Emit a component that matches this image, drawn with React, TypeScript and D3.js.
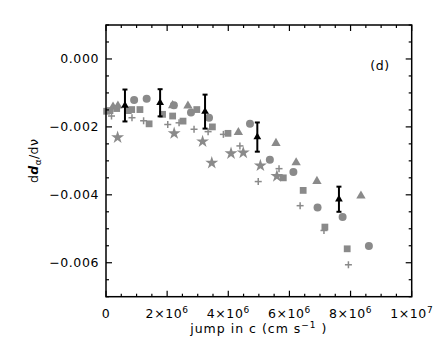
import React from 'react';
import * as d3 from 'd3';

// grey data series, x in cm/s, y in dd/dnu
const circleX = [0.92e6, 1.33e6, 2.22e6, 2.78e6, 3.37e6, 4.71e6, 5.36e6, 6.13e6, 6.92e6, 7.74e6, 8.60e6];
const circleY = [-0.00121, -0.00117, -0.00136, -0.00158, -0.00173, -0.00191, -0.00297, -0.00333, -0.00437, -0.00465, -0.00551];

const squareX = [0.02e6, 0.13e6, 0.35e6, 0.73e6, 0.84e6, 1.11e6, 1.41e6, 1.85e6, 2.18e6, 2.52e6, 2.97e6, 3.48e6, 3.99e6, 5.80e6, 6.45e6, 7.16e6, 7.89e6];
const squareY = [-0.00154, -0.00152, -0.00146, -0.00152, -0.00149, -0.00149, -0.00191, -0.00163, -0.00168, -0.00183, -0.00149, -0.0020, -0.00219, -0.0035, -0.00387, -0.00495, -0.00559];

const triX = [0.23e6, 0.39e6, 2.18e6, 2.68e6, 4.33e6, 5.56e6, 6.22e6, 6.90e6, 8.34e6];
const triY = [-0.00141, -0.00138, -0.00137, -0.00138, -0.00216, -0.00248, -0.00305, -0.0036, -0.00403];

const plusX = [0.18e6, 0.85e6, 1.23e6, 2.02e6, 2.39e6, 2.88e6, 3.34e6, 3.84e6, 4.38e6, 4.98e6, 5.66e6, 6.35e6, 7.13e6, 7.93e6];
const plusY = [-0.00168, -0.00173, -0.00182, -0.00193, -0.00188, -0.00207, -0.00214, -0.00222, -0.00256, -0.00361, -0.00323, -0.00432, -0.00505, -0.00606];

const starX = [0.38e6, 2.23e6, 3.16e6, 3.46e6, 4.09e6, 4.49e6, 5.05e6, 5.59e6];
const starY = [-0.00231, -0.00219, -0.00243, -0.00306, -0.00278, -0.00276, -0.00314, -0.00345];

// black averages with error bars
const meanX = [0.62e6, 1.77e6, 3.24e6, 4.95e6, 7.62e6];
const meanY = [-0.00137, -0.00129, -0.00155, -0.0023, -0.00413];
const meanErr = [0.00047, 0.0004, 0.0005, 0.00043, 0.00037];

const xTicks = [0, 2e6, 4e6, 6e6, 8e6, 1e7];
const xTickLabels: [string, string][] = [['0', ''], ['2×10', '6'], ['4×10', '6'], ['6×10', '6'], ['8×10', '6'], ['1×10', '7']];
const yTicks = [0, -0.002, -0.004, -0.006];
const yTickLabels = ['0.000', '−0.002', '−0.004', '−0.006'];

const W = 436, H = 349;
const margin = { left: 106, right: 24.3, top: 25, bottom: 52.3 };
const grey = '#8a8a8a';
const font = 'DejaVu Sans, sans-serif';

const App = () => {
  const x = d3.scaleLinear().domain([0, 1e7]).range([margin.left, W - margin.right]);
  const y = d3.scaleLinear().domain([-0.007, 0.001]).range([H - margin.bottom, margin.top]);
  const [x0, x1] = x.range();
  const [y0, y1] = y.range();

  const xMinor = d3.range(0, 1e7 + 1, 5e5);
  const yMinor = d3.range(-0.007, 0.00101, 0.0005);

  const sq = d3.symbol(d3.symbolSquare, 46)();
  const tri = d3.symbol(d3.symbolTriangle, 38)();
  const star = d3.symbol(d3.symbolStar, 52)();
  const blackTri = d3.symbol(d3.symbolTriangle, 26)();

  return (
    <svg width={W} height={H} style={{ position: 'absolute', left: 0, top: 0 }} fontFamily={font}>
      <rect width={W} height={H} fill="#fff" />

      {/* grey markers */}
      {circleX.map((v, i) => (
        <circle key={'c' + i} cx={x(v)} cy={y(circleY[i])} r={4} fill={grey} />
      ))}
      {squareX.map((v, i) => (
        <path key={'s' + i} d={sq} transform={`translate(${x(v)},${y(squareY[i])})`} fill={grey} />
      ))}
      {triX.map((v, i) => (
        <path key={'t' + i} d={tri} transform={`translate(${x(v)},${y(triY[i])})`} fill={grey} />
      ))}
      {plusX.map((v, i) => (
        <g key={'p' + i} transform={`translate(${x(v)},${y(plusY[i])})`} stroke={grey} strokeWidth={1.5}>
          <line x1={-3.5} x2={3.5} />
          <line y1={-3.5} y2={3.5} />
        </g>
      ))}
      {starX.map((v, i) => (
        <path key={'st' + i} d={star} transform={`translate(${x(v)},${y(starY[i])})`} fill={grey} />
      ))}

      {/* averages */}
      {meanX.map((v, i) => {
        const top = y(meanY[i] + meanErr[i]);
        const bot = y(meanY[i] - meanErr[i]);
        const cx = x(v);
        return (
          <g key={'m' + i} stroke="#000" strokeWidth={2}>
            <line x1={cx} x2={cx} y1={top} y2={bot} />
            <line x1={cx - 2.5} x2={cx + 2.5} y1={top} y2={top} />
            <line x1={cx - 2.5} x2={cx + 2.5} y1={bot} y2={bot} />
            <path d={blackTri} transform={`translate(${cx},${y(meanY[i])})`} fill="#000" stroke="none" />
          </g>
        );
      })}

      {/* frame and ticks */}
      <rect x={x0} y={y1} width={x1 - x0} height={y0 - y1} fill="none" stroke="#000" strokeWidth={1.5} />
      <g stroke="#000" strokeWidth={1.2}>
        {xMinor.map((v, i) => {
          const len = xTicks.some(t => Math.abs(t - v) < 1) ? 6 : 3;
          return (
            <g key={'xt' + i}>
              <line x1={x(v)} x2={x(v)} y1={y0} y2={y0 - len} />
              <line x1={x(v)} x2={x(v)} y1={y1} y2={y1 + len} />
            </g>
          );
        })}
        {yMinor.map((v, i) => {
          const len = yTicks.some(t => Math.abs(t - v) < 1e-7) ? 6 : 3;
          return (
            <g key={'yt' + i}>
              <line x1={x0} x2={x0 + len} y1={y(v)} y2={y(v)} />
              <line x1={x1} x2={x1 - len} y1={y(v)} y2={y(v)} />
            </g>
          );
        })}
      </g>

      {/* tick labels */}
      {xTicks.map((v, i) => (
        <text key={'xl' + i} x={x(v)} y={y0 + 21} textAnchor="middle" fontSize={12.5} letterSpacing={0.6}>
          {xTickLabels[i][0]}
          {xTickLabels[i][1] && (
            <tspan dy={-5} fontSize={9}>{xTickLabels[i][1]}</tspan>
          )}
        </text>
      ))}
      {yTicks.map((v, i) => (
        <text key={'yl' + i} x={x0 - 7} y={y(v)} dy="0.35em" textAnchor="end" fontSize={12.5} letterSpacing={0.6}>
          {yTickLabels[i]}
        </text>
      ))}

      {/* axis titles */}
      <text x={(x0 + x1) / 2} y={y0 + 36} textAnchor="middle" fontSize={12.5} letterSpacing={1}>
        jump in c (cm s<tspan dy={-5} fontSize={9}>−1</tspan><tspan dy={5}> )</tspan>
      </text>
      <text transform={`translate(38,${(y0 + y1) / 2}) rotate(-90)`} textAnchor="middle" fontSize={12.5} letterSpacing={0.4}>
        d<tspan fontWeight="bold" fontStyle="italic">d</tspan>
        <tspan dy={3} fontSize={9}>α</tspan>
        <tspan dy={-3}>/dν</tspan>
      </text>

      <text x={380} y={y(0) + 11} textAnchor="middle" fontSize={12.5} letterSpacing={0.6}>(d)</text>
    </svg>
  );
};

export default App;
